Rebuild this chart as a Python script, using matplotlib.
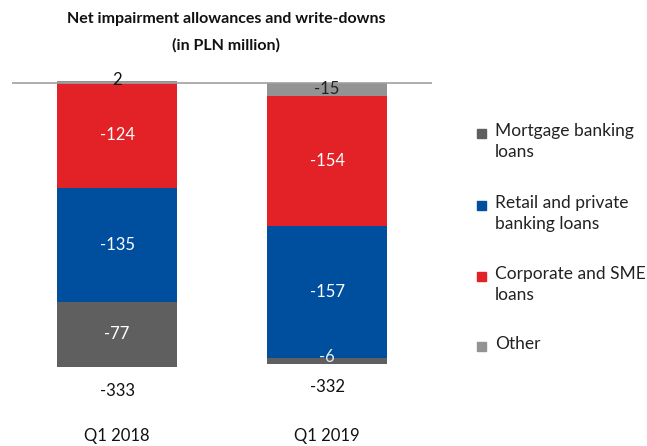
import matplotlib
matplotlib.use("Agg")
import matplotlib.pyplot as plt
from matplotlib.patches import Rectangle
import numpy as np

plt.rcParams['font.family'] = ['Lato', 'DejaVu Sans']

categories = ["Q1 2018", "Q1 2019"]
series_names = ["Mortgage banking\nloans", "Retail and private\nbanking loans",
                "Corporate and SME\nloans", "Other"]
mortgage = [-77, -6]
retail = [-135, -157]
corporate = [-124, -154]
other = [2, -15]
totals = [-333, -332]

colors = ["#5f5f5f", "#004f9e", "#e32228", "#939393"]
label_colors = ["white", "white", "white", "#222222"]

fig = plt.figure(figsize=(6.47, 4.46), dpi=100)
W, H = 647, 446
px_per_unit = 0.845
zero_px = 83
top_px, bot_px = 70, 446
ymax = (zero_px - top_px) / px_per_unit
ymin = -(bot_px - zero_px) / px_per_unit
ax = fig.add_axes([12 / W, 1 - bot_px / H, 420 / W, (bot_px - top_px) / H])
ax.set_xlim(-0.5, 1.5)
ax.set_ylim(ymin, ymax)
ax.axis("off")

x = np.arange(len(categories))
width = 0.567
num_fs = 12

# stack negative segments downward from zero, positive ones upward
stack_order = [other, corporate, retail, mortgage]
stack_colors = [colors[3], colors[2], colors[1], colors[0]]
stack_lcolors = [label_colors[3], label_colors[2], label_colors[1], label_colors[0]]
neg_base = np.zeros(len(categories))
pos_base = np.zeros(len(categories))
for vals, c, lc in zip(stack_order, stack_colors, stack_lcolors):
    vals = np.array(vals, dtype=float)
    bottoms = np.where(vals < 0, neg_base, pos_base)
    ax.bar(x, vals, width, bottom=bottoms, color=c, zorder=2)
    for i, v in enumerate(vals):
        if v > 0:
            ax.text(x[i], bottoms[i] + v + 2, f"{v:.0f}", ha="center", va="center",
                    fontsize=num_fs, color="#111111", zorder=4)
        elif abs(v) < 10:
            ax.text(x[i], bottoms[i] + v / 2 + 5, f"{v:.0f}", ha="center",
                    va="center", fontsize=num_fs, color="#e8e8e8", zorder=4)
        else:
            ax.text(x[i], bottoms[i] + v / 2, f"{v:.0f}", ha="center",
                    va="center", fontsize=num_fs, color=lc, zorder=4)
    neg_base = np.where(vals < 0, neg_base + vals, neg_base)
    pos_base = np.where(vals > 0, pos_base + vals, pos_base)

ax.axhline(0, color="#a0a0a0", lw=1.2, zorder=3)

for i, t in enumerate(totals):
    ax.text(x[i], neg_base[i] - 28, f"{t}", ha="center", va="center",
            fontsize=num_fs, color="#111111")
    ax.text(x[i], ymin + 12, categories[i], ha="center", va="center",
            fontsize=num_fs, color="#111111")

fig.text(226 / W, 1 - 19 / H, "Net impairment allowances and write-downs",
         ha="center", va="center", fontsize=11.5, fontweight="bold", color="#111111")
fig.text(226 / W, 1 - 45 / H, "(in PLN million)",
         ha="center", va="center", fontsize=11.5, fontweight="bold", color="#111111")

# legend drawn beside the plot
leg_y = [133, 205, 276, 346]
for name, c, yp in zip(series_names, colors, leg_y):
    fig.patches.append(Rectangle(((482 - 4.5) / W, 1 - (yp + 4.5) / H), 9 / W, 9 / H,
                                 transform=fig.transFigure, color=c, figure=fig))
    fig.text(495 / W, 1 - (yp - 10) / H, name, ha="left", va="top",
             fontsize=12.5, color="#222222", linespacing=1.35)

fig.savefig("out.png", dpi=100)
